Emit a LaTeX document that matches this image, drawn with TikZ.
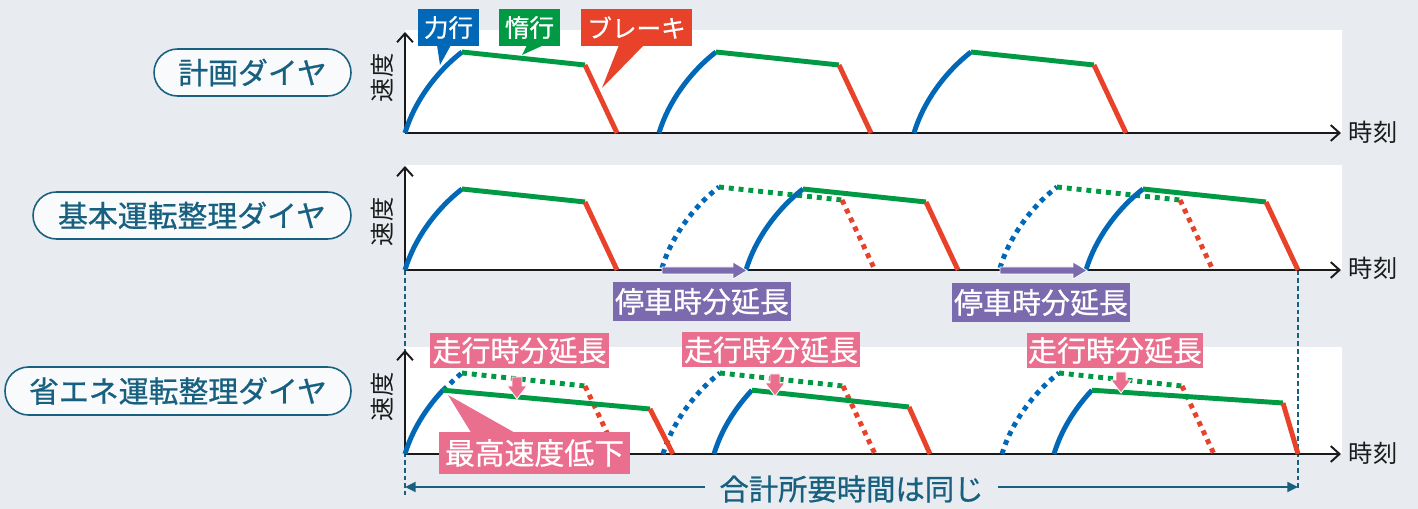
\documentclass[tikz,border=0pt]{standalone}
\usepackage{fontspec}
\setmainfont{Noto Sans CJK JP}
\newfontfamily\medfont{Noto Sans CJK JP}[FakeBold=0.7]
\usetikzlibrary{arrows.meta}
\definecolor{bg}{HTML}{E8ECF1}
\definecolor{tealc}{HTML}{17607F}
\definecolor{blu}{HTML}{0068B7}
\definecolor{grn}{HTML}{009944}
\definecolor{rdd}{HTML}{E8422A}
\definecolor{pur}{HTML}{7B6AAE}
\definecolor{pnk}{HTML}{EA6F8E}
\definecolor{pillbg}{HTML}{F8FAFC}
\definecolor{txt}{HTML}{1A1A1A}
\newcommand\fullcyc[3]{%
  \begin{scope}[shift={(#1,#2)}]
    \draw[#3,blu] (0,0) .. controls (9,-30) and (30,-60) .. (57,-81);
    \draw[#3,grn] (57,-81) -- (180,-68);
    \draw[#3,rdd] (180,-68) -- (212,0);
  \end{scope}}
\newcommand\actcyc[4]{%
  \begin{scope}[shift={(#1,454)}]
    \draw[sl,blu] (0,0) .. controls (6.75,-22.5) and (19.9,-44.6) .. (37.9,-63.8);
    \draw[sl,grn] (37.9,-63.8) -- (#2,#3);
    \draw[sl,rdd] (#2,#3) -- (#4,0);
  \end{scope}}
\newcommand\pinkarrow[3]{%
  \fill[pnk, draw=white, line width=0.5pt] (#1-5,#2) -- (#1+5,#2) -- (#1+5,#3-13) -- (#1+10,#3-13) -- (#1,#3) -- (#1-10,#3-13) -- (#1-5,#3-13) -- cycle;}
\newcommand\purarrow[2]{%
  \fill[pur, draw=white, line width=0.4pt] (#1,267) -- (#2-14,267) -- (#2-14,262) -- (#2,270.5) -- (#2-14,279) -- (#2-14,274) -- (#1,274) -- cycle;}
\begin{document}
\begin{tikzpicture}[x=0.02cm,y=-0.02cm,
  sl/.style={line width=2.8pt},
  dt/.style={line width=2.8pt, dash pattern=on 2.8pt off 2.8pt},
  axisline/.style={line width=1.1pt, txt, -{Straight Barb[length=5pt,width=9pt]}},
  dsh/.style={tealc, line width=0.7pt, dash pattern=on 2.8pt off 1.7pt},
  pill/.style={draw=tealc, line width=0.9pt, fill=pillbg, rounded corners=0.47cm, inner sep=0pt, minimum height=0.94cm, text=tealc, font=\medfont\fontsize{17pt}{20pt}\selectfont},
  lbl/.style={text=txt, inner sep=0pt, font=\fontsize{13.8pt}{16pt}\selectfont},
  tag/.style={inner sep=0pt, minimum height=0.74cm, text=white, font=\medfont\fontsize{14pt}{16pt}\selectfont},
  bigtag/.style={inner sep=0pt, text=white, font=\medfont\fontsize{16.5pt}{19pt}\selectfont}
]
\useasboundingbox (0,0) rectangle (1418,509);
\fill[bg] (0,0) rectangle (1418,509);
% panels
\fill[white] (405,30) rectangle (1342,133);
\fill[white] (405,165) rectangle (1342,270);
\fill[white] (405,347) rectangle (1342,454);
% dashed guide lines
\coordinate (L0) at (405,270); \coordinate (L1) at (405,495);
\coordinate (R0) at (1298,270); \coordinate (R1) at (1298,490);
\draw[dsh] (L0) -- (L1);
\draw[dsh] (R0) -- (R1);
% axes
\foreach \yy/\tt in {133/32, 270/166, 454/350}{
  \draw[axisline] (405,\yy) -- (405,\tt);
  \draw[axisline] (405,\yy) -- (1341,\yy);
}
\node[lbl, rotate=90] (v1) at (382,78) {速度};
\node[lbl, rotate=90] (v2) at (382,222) {速度};
\node[lbl, rotate=90] (v3) at (382,397) {速度};
\node[lbl] (t1) at (1373,132) {時刻};
\node[lbl] (t2) at (1373,268) {時刻};
\node[lbl] (t3) at (1373,453) {時刻};
% pills
\node[pill, minimum width=3.94cm] (p1) at (252.5,72.5) {計画ダイヤ};
\node[pill, minimum width=6.36cm] (p2) at (192,215.5) {基本運転整理ダイヤ};
\node[pill, minimum width=6.92cm, minimum height=0.96cm] (p3) at (178,391) {省エネ運転整理ダイヤ};
% panel 1
\fullcyc{405}{133}{sl}
\fullcyc{659}{133}{sl}
\fullcyc{914}{133}{sl}
% panel 2
\fullcyc{662}{268}{dt}
\fullcyc{1000}{268}{dt}
\fullcyc{405}{270}{sl}
\fullcyc{746}{270}{sl}
\fullcyc{1086}{270}{sl}
\purarrow{662}{747}
\purarrow{1000}{1087}
% panel 3 planned
\begin{scope}[shift={(405,454)}]
  \draw[dt,blu] (37.9,-63.8) .. controls (44.6,-69.4) and (50.25,-75.75) .. (57,-81);
  \draw[dt,grn] (57,-81) -- (180,-68);
  \draw[dt,rdd] (180,-68) -- (212,0);
\end{scope}
\fullcyc{663}{454}{dt}
\fullcyc{1002}{454}{dt}
% panel 3 actual
\actcyc{405}{245}{-45}{268}
\actcyc{714}{195}{-47}{216}
\actcyc{1054}{229}{-51}{244}
% pink down arrows
\pinkarrow{517}{377}{399}
\pinkarrow{775}{374}{396}
\pinkarrow{1121}{372}{393}
% callouts at top
\fill[blu] (437,45) -- (451,45) -- (440,65) -- cycle;
\fill[grn] (527,45) -- (544,45) -- (522,55) -- cycle;
\fill[rdd] (619,45) -- (644,45) -- (602,88) -- cycle;
\node[tag, fill=blu, minimum width=1.22cm] (k1) at (448.5,27.5) {力行};
\node[tag, fill=grn, minimum width=1.22cm] (k2) at (529.5,27.5) {惰行};
\node[tag, fill=rdd, minimum width=2.22cm] (k3) at (636.5,27.5) {ブレーキ};
% purple tags
\node[bigtag, fill=pur, minimum width=3.56cm, minimum height=0.78cm] (s1) at (702,301.5) {停車時分延長};
\node[bigtag, fill=pur, minimum width=3.56cm, minimum height=0.78cm] (s2) at (1041,302.5) {停車時分延長};
% pink tags
\node[bigtag, fill=pnk, minimum width=3.58cm, minimum height=0.7cm] (r1) at (519.5,350.5) {走行時分延長};
\node[bigtag, fill=pnk, minimum width=3.56cm, minimum height=0.7cm] (r2) at (771,350) {走行時分延長};
\node[bigtag, fill=pnk, minimum width=3.52cm, minimum height=0.7cm] (r3) at (1115,350.5) {走行時分延長};
\fill[pnk] (448,395) -- (472,434) -- (517,434) -- cycle;
\node[bigtag, fill=pnk, minimum width=3.82cm, minimum height=0.84cm, font=\medfont\fontsize{17pt}{20pt}\selectfont] (m1) at (534.5,453) {最高速度低下};
% total time arrow
\coordinate (A0) at (405,487); \coordinate (A1) at (1298,487);
\draw[tealc, line width=1.5pt, {Triangle[length=6pt,width=5.5pt]}-{Triangle[length=6pt,width=5.5pt]}] (A0) -- (A1);
\node[fill=bg, text=tealc, inner ysep=0pt, inner xsep=0.28cm, font=\medfont\fontsize{16.7pt}{19pt}\selectfont] (tot) at (851.5,489) {合計所要時間は同じ};
\end{tikzpicture}
\end{document}
